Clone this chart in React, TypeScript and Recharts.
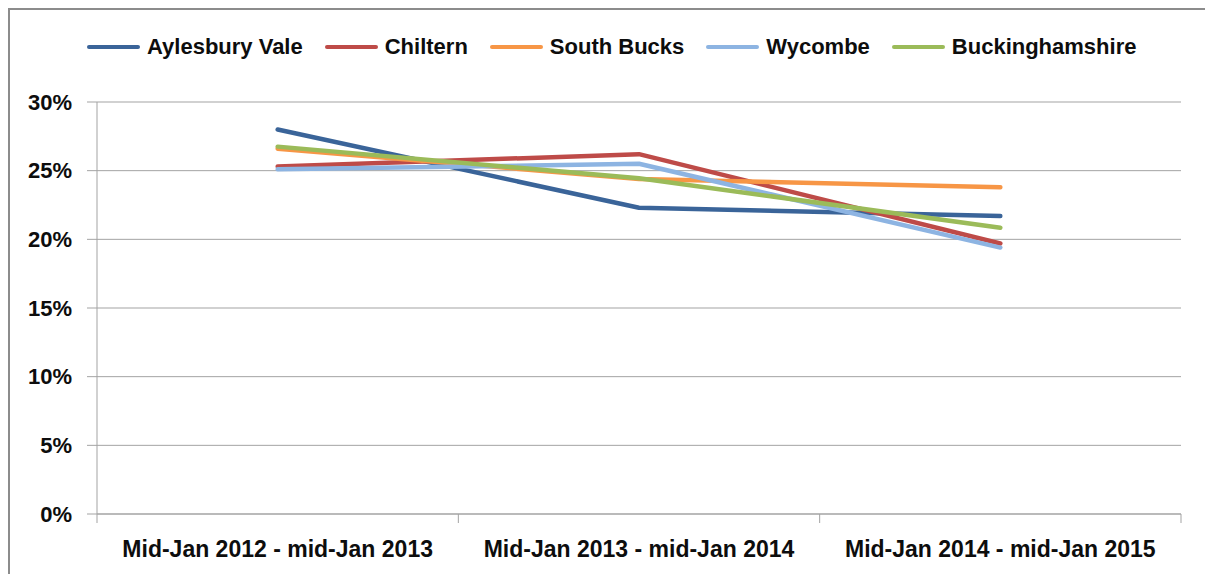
import { LineChart, Line, XAxis, YAxis, CartesianGrid } from "recharts";

const periods = [
  "Mid-Jan 2012 - mid-Jan 2013",
  "Mid-Jan 2013 - mid-Jan 2014",
  "Mid-Jan 2014 - mid-Jan 2015",
];

const aylesburyVale = [28.0, 22.3, 21.7];
const chiltern = [25.3, 26.2, 19.7];
const southBucks = [26.6, 24.4, 23.8];
const wycombe = [25.1, 25.5, 19.4];
const buckinghamshire = [26.75, 24.45, 20.85];

const yTicks = [0, 5, 10, 15, 20, 25, 30];

const series = [
  { key: "aylesbury", name: "Aylesbury Vale", color: "#3A6499", values: aylesburyVale },
  { key: "chiltern", name: "Chiltern", color: "#BE4B48", values: chiltern },
  { key: "southBucks", name: "South Bucks", color: "#F79646", values: southBucks },
  { key: "wycombe", name: "Wycombe", color: "#8DB4E2", values: wycombe },
  { key: "bucks", name: "Buckinghamshire", color: "#9BBB59", values: buckinghamshire },
];

const data = periods.map((period, i) => {
  const row: Record<string, string | number> = { period };
  series.forEach((s) => {
    row[s.key] = s.values[i];
  });
  return row;
});

const FONT = "'Liberation Sans', Arial, sans-serif";
const GRID = "#a3a3a3";
const TEXT = "#0d0d0d";

// category label centred in its band, with Excel-style tick marks on the band edges
function PeriodTick(props: any) {
  const { x, y, payload, index, visibleTicksCount } = props;
  const half = payload.offset ?? 0;
  const isLast = index === visibleTicksCount - 1;
  return (
    <g>
      <line x1={x - half} x2={x - half} y1={y} y2={y + 9} stroke={GRID} strokeWidth={1} />
      {isLast && <line x1={x + half} x2={x + half} y1={y} y2={y + 9} stroke={GRID} strokeWidth={1} />}
      <text
        x={x}
        y={y + 35}
        dy="0.355em"
        textAnchor="middle"
        fill={TEXT}
        fontSize={23}
        fontWeight="bold"
        fontFamily={FONT}
      >
        {payload.value}
      </text>
    </g>
  );
}

function LegendRow() {
  return (
    <div
      style={{
        position: "absolute",
        top: 24,
        left: 77,
        display: "flex",
        alignItems: "center",
        fontFamily: FONT,
        fontWeight: "bold",
        fontSize: 22,
        color: TEXT,
        whiteSpace: "nowrap",
      }}
    >
      {series.map((s, i) => (
        <div key={s.key} style={{ display: "flex", alignItems: "center", marginLeft: i === 0 ? 0 : 22 }}>
          <span
            style={{
              display: "inline-block",
              width: 53,
              height: 4,
              borderRadius: 2,
              background: s.color,
              marginRight: 7,
            }}
          />
          <span>{s.name}</span>
        </div>
      ))}
    </div>
  );
}

export default function App() {
  // the frame runs off the right and bottom edges, so only its top and left sides show
  return (
    <div
      style={{
        position: "fixed",
        left: 8,
        top: 8,
        right: 0,
        bottom: 0,
        borderLeft: "2px solid #8c8c8c",
        borderTop: "2px solid #8c8c8c",
        overflow: "hidden",
        background: "#fff",
      }}
    >
      <LegendRow />
      <LineChart width={1195} height={564} data={data} margin={{ top: 92, right: 24, left: 0, bottom: 0 }}>
        <CartesianGrid vertical={false} stroke={GRID} strokeWidth={1} />
        <XAxis
          dataKey="period"
          scale="band"
          height={60}
          tickLine={false}
          tickSize={0}
          tickMargin={0}
          axisLine={{ stroke: GRID }}
          tick={<PeriodTick />}
          interval={0}
        />
        <YAxis
          width={87}
          domain={[0, 30]}
          ticks={yTicks}
          interval={0}
          tickSize={10}
          tickMargin={15}
          tickLine={{ stroke: GRID }}
          axisLine={{ stroke: GRID }}
          tickFormatter={(v: number) => `${v}%`}
          tick={{ fontSize: 22, fontWeight: "bold", fill: TEXT, fontFamily: FONT }}
        />
        {series.map((s) => (
          <Line
            key={s.key}
            type="linear"
            dataKey={s.key}
            name={s.name}
            stroke={s.color}
            strokeWidth={4.5}
            strokeLinecap="round"
            strokeLinejoin="round"
            dot={false}
            activeDot={false}
            isAnimationActive={false}
          />
        ))}
      </LineChart>
    </div>
  );
}
